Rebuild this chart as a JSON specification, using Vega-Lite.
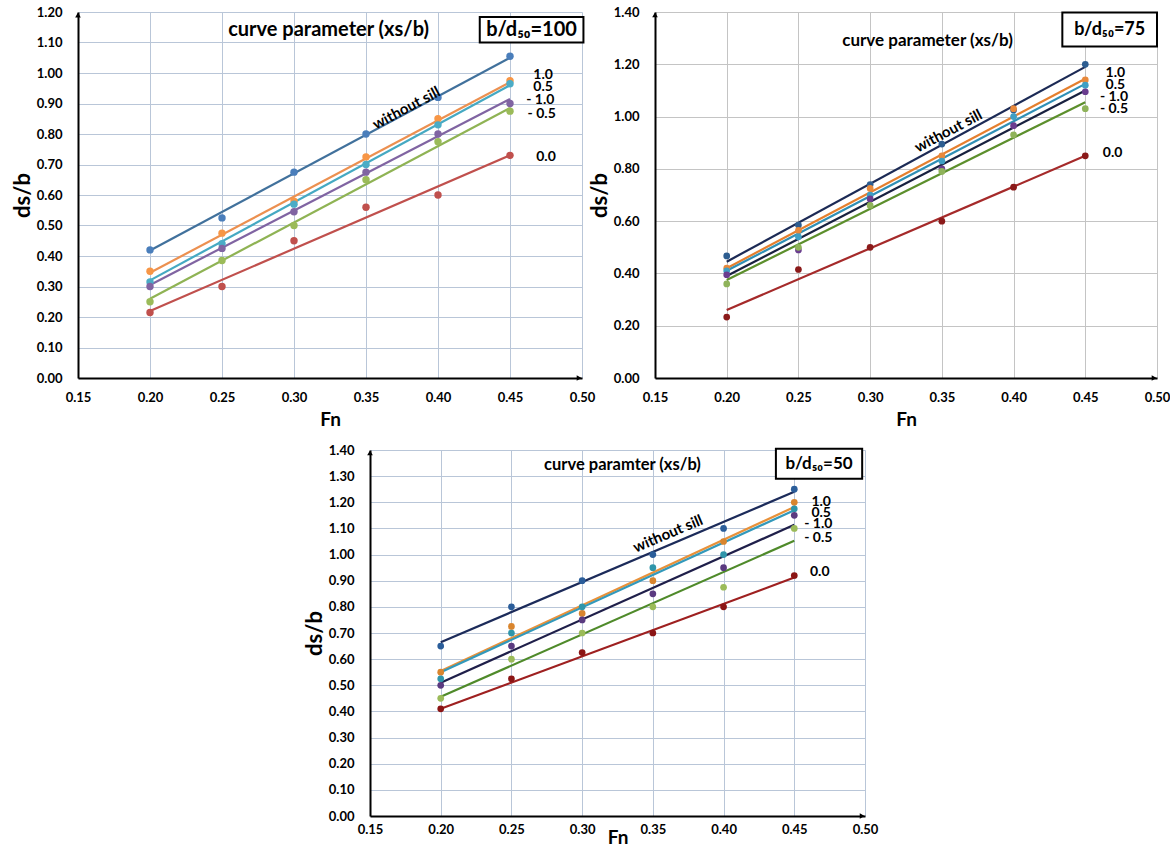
{
  "$schema": "https://vega.github.io/schema/vega-lite/v6.json",
  "background": "white",
  "padding": {"left": 11, "top": 6, "right": 0, "bottom": 0},
  "spacing": 15,
  "config": {
    "view": {"stroke": null},
    "font": "Lato",
    "axis": {
      "labelFont": "Lato", "labelFontWeight": "bold", "labelFontSize": 13, "labelColor": "#000",
      "titleFont": "Lato", "titleFontWeight": "bold", "titleColor": "#000",
      "domainColor": "#000", "domainWidth": 2, "ticks": false,
      "gridColor": "#b9c6d8", "gridWidth": 1, "gridOpacity": 1
    },
    "axisX": {"labelPadding": 13, "titleFontSize": 19, "titlePadding": 6, "labelFlush": false},
    "axisY": {"labelPadding": 16, "titleFontSize": 22, "titlePadding": 2, "labelFlush": false},
    "text": {"font": "Lato", "color": "#000"}
  },
  "datasets": {
    "pts100": [
      {"Fn": 0.20, "ds": 0.42, "s": "without sill"}, {"Fn": 0.20, "ds": 0.35, "s": "1.0"}, {"Fn": 0.20, "ds": 0.315, "s": "0.5"}, {"Fn": 0.20, "ds": 0.30, "s": "-1.0"}, {"Fn": 0.20, "ds": 0.25, "s": "-0.5"}, {"Fn": 0.20, "ds": 0.215, "s": "0.0"},
      {"Fn": 0.25, "ds": 0.525, "s": "without sill"}, {"Fn": 0.25, "ds": 0.475, "s": "1.0"}, {"Fn": 0.25, "ds": 0.44, "s": "0.5"}, {"Fn": 0.25, "ds": 0.425, "s": "-1.0"}, {"Fn": 0.25, "ds": 0.385, "s": "-0.5"}, {"Fn": 0.25, "ds": 0.30, "s": "0.0"},
      {"Fn": 0.30, "ds": 0.675, "s": "without sill"}, {"Fn": 0.30, "ds": 0.58, "s": "1.0"}, {"Fn": 0.30, "ds": 0.57, "s": "0.5"}, {"Fn": 0.30, "ds": 0.545, "s": "-1.0"}, {"Fn": 0.30, "ds": 0.50, "s": "-0.5"}, {"Fn": 0.30, "ds": 0.45, "s": "0.0"},
      {"Fn": 0.35, "ds": 0.80, "s": "without sill"}, {"Fn": 0.35, "ds": 0.725, "s": "1.0"}, {"Fn": 0.35, "ds": 0.70, "s": "0.5"}, {"Fn": 0.35, "ds": 0.675, "s": "-1.0"}, {"Fn": 0.35, "ds": 0.65, "s": "-0.5"}, {"Fn": 0.35, "ds": 0.56, "s": "0.0"},
      {"Fn": 0.40, "ds": 0.92, "s": "without sill"}, {"Fn": 0.40, "ds": 0.85, "s": "1.0"}, {"Fn": 0.40, "ds": 0.83, "s": "0.5"}, {"Fn": 0.40, "ds": 0.80, "s": "-1.0"}, {"Fn": 0.40, "ds": 0.775, "s": "-0.5"}, {"Fn": 0.40, "ds": 0.60, "s": "0.0"},
      {"Fn": 0.45, "ds": 1.055, "s": "without sill"}, {"Fn": 0.45, "ds": 0.975, "s": "1.0"}, {"Fn": 0.45, "ds": 0.965, "s": "0.5"}, {"Fn": 0.45, "ds": 0.90, "s": "-1.0"}, {"Fn": 0.45, "ds": 0.875, "s": "-0.5"}, {"Fn": 0.45, "ds": 0.73, "s": "0.0"}
    ],
    "lines100": [
      {"Fn": 0.20, "ds": 0.418, "s": "without sill"}, {"Fn": 0.45, "ds": 1.05, "s": "without sill"},
      {"Fn": 0.20, "ds": 0.345, "s": "1.0"}, {"Fn": 0.45, "ds": 0.97, "s": "1.0"},
      {"Fn": 0.20, "ds": 0.32, "s": "0.5"}, {"Fn": 0.45, "ds": 0.96, "s": "0.5"},
      {"Fn": 0.20, "ds": 0.305, "s": "-1.0"}, {"Fn": 0.45, "ds": 0.915, "s": "-1.0"},
      {"Fn": 0.20, "ds": 0.26, "s": "-0.5"}, {"Fn": 0.45, "ds": 0.885, "s": "-0.5"},
      {"Fn": 0.20, "ds": 0.22, "s": "0.0"}, {"Fn": 0.45, "ds": 0.73, "s": "0.0"}
    ],
    "labels100": [
      {"Fn": 0.473, "ds": 0.994, "t": "1.0"}, {"Fn": 0.473, "ds": 0.955, "t": "0.5"}, {"Fn": 0.471, "ds": 0.912, "t": "- 1.0"}, {"Fn": 0.472, "ds": 0.866, "t": "- 0.5"}, {"Fn": 0.475, "ds": 0.724, "t": "0.0"}
    ],
    "pts75": [
      {"Fn": 0.20, "ds": 0.467, "s": "without sill"}, {"Fn": 0.20, "ds": 0.42, "s": "1.0"}, {"Fn": 0.20, "ds": 0.41, "s": "0.5"}, {"Fn": 0.20, "ds": 0.395, "s": "-1.0"}, {"Fn": 0.20, "ds": 0.36, "s": "-0.5"}, {"Fn": 0.20, "ds": 0.233, "s": "0.0"},
      {"Fn": 0.25, "ds": 0.585, "s": "without sill"}, {"Fn": 0.25, "ds": 0.565, "s": "1.0"}, {"Fn": 0.25, "ds": 0.54, "s": "0.5"}, {"Fn": 0.25, "ds": 0.49, "s": "-1.0"}, {"Fn": 0.25, "ds": 0.50, "s": "-0.5"}, {"Fn": 0.25, "ds": 0.415, "s": "0.0"},
      {"Fn": 0.30, "ds": 0.74, "s": "without sill"}, {"Fn": 0.30, "ds": 0.725, "s": "1.0"}, {"Fn": 0.30, "ds": 0.70, "s": "0.5"}, {"Fn": 0.30, "ds": 0.685, "s": "-1.0"}, {"Fn": 0.30, "ds": 0.66, "s": "-0.5"}, {"Fn": 0.30, "ds": 0.50, "s": "0.0"},
      {"Fn": 0.35, "ds": 0.895, "s": "without sill"}, {"Fn": 0.35, "ds": 0.85, "s": "1.0"}, {"Fn": 0.35, "ds": 0.83, "s": "0.5"}, {"Fn": 0.35, "ds": 0.80, "s": "-1.0"}, {"Fn": 0.35, "ds": 0.79, "s": "-0.5"}, {"Fn": 0.35, "ds": 0.60, "s": "0.0"},
      {"Fn": 0.40, "ds": 1.025, "s": "without sill"}, {"Fn": 0.40, "ds": 1.03, "s": "1.0"}, {"Fn": 0.40, "ds": 1.00, "s": "0.5"}, {"Fn": 0.40, "ds": 0.965, "s": "-1.0"}, {"Fn": 0.40, "ds": 0.93, "s": "-0.5"}, {"Fn": 0.40, "ds": 0.73, "s": "0.0"},
      {"Fn": 0.45, "ds": 1.20, "s": "without sill"}, {"Fn": 0.45, "ds": 1.14, "s": "1.0"}, {"Fn": 0.45, "ds": 1.12, "s": "0.5"}, {"Fn": 0.45, "ds": 1.095, "s": "-1.0"}, {"Fn": 0.45, "ds": 1.03, "s": "-0.5"}, {"Fn": 0.45, "ds": 0.85, "s": "0.0"}
    ],
    "lines75": [
      {"Fn": 0.20, "ds": 0.445, "s": "without sill"}, {"Fn": 0.45, "ds": 1.19, "s": "without sill"},
      {"Fn": 0.20, "ds": 0.42, "s": "1.0"}, {"Fn": 0.45, "ds": 1.145, "s": "1.0"},
      {"Fn": 0.20, "ds": 0.41, "s": "0.5"}, {"Fn": 0.45, "ds": 1.125, "s": "0.5"},
      {"Fn": 0.20, "ds": 0.39, "s": "-1.0"}, {"Fn": 0.45, "ds": 1.10, "s": "-1.0"},
      {"Fn": 0.20, "ds": 0.375, "s": "-0.5"}, {"Fn": 0.45, "ds": 1.055, "s": "-0.5"},
      {"Fn": 0.20, "ds": 0.26, "s": "0.0"}, {"Fn": 0.45, "ds": 0.85, "s": "0.0"}
    ],
    "labels75": [
      {"Fn": 0.471, "ds": 1.167, "t": "1.0"}, {"Fn": 0.471, "ds": 1.12, "t": "0.5"}, {"Fn": 0.470, "ds": 1.076, "t": "- 1.0"}, {"Fn": 0.470, "ds": 1.03, "t": "- 0.5"}, {"Fn": 0.469, "ds": 0.859, "t": "0.0"}
    ],
    "pts50": [
      {"Fn": 0.20, "ds": 0.65, "s": "without sill"}, {"Fn": 0.20, "ds": 0.55, "s": "1.0"}, {"Fn": 0.20, "ds": 0.525, "s": "0.5"}, {"Fn": 0.20, "ds": 0.50, "s": "-1.0"}, {"Fn": 0.20, "ds": 0.45, "s": "-0.5"}, {"Fn": 0.20, "ds": 0.41, "s": "0.0"},
      {"Fn": 0.25, "ds": 0.80, "s": "without sill"}, {"Fn": 0.25, "ds": 0.725, "s": "1.0"}, {"Fn": 0.25, "ds": 0.70, "s": "0.5"}, {"Fn": 0.25, "ds": 0.65, "s": "-1.0"}, {"Fn": 0.25, "ds": 0.60, "s": "-0.5"}, {"Fn": 0.25, "ds": 0.525, "s": "0.0"},
      {"Fn": 0.30, "ds": 0.90, "s": "without sill"}, {"Fn": 0.30, "ds": 0.775, "s": "1.0"}, {"Fn": 0.30, "ds": 0.80, "s": "0.5"}, {"Fn": 0.30, "ds": 0.75, "s": "-1.0"}, {"Fn": 0.30, "ds": 0.70, "s": "-0.5"}, {"Fn": 0.30, "ds": 0.625, "s": "0.0"},
      {"Fn": 0.35, "ds": 1.00, "s": "without sill"}, {"Fn": 0.35, "ds": 0.90, "s": "1.0"}, {"Fn": 0.35, "ds": 0.95, "s": "0.5"}, {"Fn": 0.35, "ds": 0.85, "s": "-1.0"}, {"Fn": 0.35, "ds": 0.80, "s": "-0.5"}, {"Fn": 0.35, "ds": 0.70, "s": "0.0"},
      {"Fn": 0.40, "ds": 1.10, "s": "without sill"}, {"Fn": 0.40, "ds": 1.05, "s": "1.0"}, {"Fn": 0.40, "ds": 1.00, "s": "0.5"}, {"Fn": 0.40, "ds": 0.95, "s": "-1.0"}, {"Fn": 0.40, "ds": 0.875, "s": "-0.5"}, {"Fn": 0.40, "ds": 0.80, "s": "0.0"},
      {"Fn": 0.45, "ds": 1.25, "s": "without sill"}, {"Fn": 0.45, "ds": 1.20, "s": "1.0"}, {"Fn": 0.45, "ds": 1.175, "s": "0.5"}, {"Fn": 0.45, "ds": 1.15, "s": "-1.0"}, {"Fn": 0.45, "ds": 1.10, "s": "-0.5"}, {"Fn": 0.45, "ds": 0.92, "s": "0.0"}
    ],
    "lines50": [
      {"Fn": 0.20, "ds": 0.665, "s": "without sill"}, {"Fn": 0.45, "ds": 1.24, "s": "without sill"},
      {"Fn": 0.20, "ds": 0.555, "s": "1.0"}, {"Fn": 0.45, "ds": 1.182, "s": "1.0"},
      {"Fn": 0.20, "ds": 0.55, "s": "0.5"}, {"Fn": 0.45, "ds": 1.17, "s": "0.5"},
      {"Fn": 0.20, "ds": 0.51, "s": "-1.0"}, {"Fn": 0.45, "ds": 1.114, "s": "-1.0"},
      {"Fn": 0.20, "ds": 0.456, "s": "-0.5"}, {"Fn": 0.45, "ds": 1.053, "s": "-0.5"},
      {"Fn": 0.20, "ds": 0.41, "s": "0.0"}, {"Fn": 0.45, "ds": 0.912, "s": "0.0"}
    ],
    "labels50": [
      {"Fn": 0.469, "ds": 1.201, "t": "1.0"}, {"Fn": 0.469, "ds": 1.16, "t": "0.5"}, {"Fn": 0.467, "ds": 1.116, "t": "- 1.0"}, {"Fn": 0.467, "ds": 1.062, "t": "- 0.5"}, {"Fn": 0.468, "ds": 0.934, "t": "0.0"}
    ]
  },
  "vconcat": [
    {
      "hconcat": [
        {
          "width": 504, "height": 366,
          "encoding": {
            "x": {"field": "Fn", "type": "quantitative", "scale": {"domain": [0.15, 0.5], "nice": false, "zero": false},
                  "axis": {"title": "Fn", "values": [0.15, 0.2, 0.25, 0.3, 0.35, 0.4, 0.45, 0.5], "format": ".2f", "grid": true}},
            "y": {"field": "ds", "type": "quantitative", "scale": {"domain": [0, 1.2], "nice": false},
                  "axis": {"title": "ds/b", "values": [0, 0.1, 0.2, 0.3, 0.4, 0.5, 0.6, 0.7, 0.8, 0.9, 1.0, 1.1, 1.2], "format": ".2f", "grid": true}}
          },
          "layer": [
            {"data": {"name": "lines100"}, "mark": {"type": "line", "strokeWidth": 2.2},
             "encoding": {"stroke": {"field": "s", "type": "nominal", "legend": null,
               "scale": {"domain": ["without sill", "1.0", "0.5", "-1.0", "-0.5", "0.0"], "range": ["#41719c", "#ec9050", "#45a9c2", "#8064a2", "#8fb354", "#c0504d"]}}}},
            {"data": {"name": "pts100"}, "mark": {"type": "circle", "size": 55, "opacity": 1},
             "encoding": {"fill": {"field": "s", "type": "nominal", "legend": null,
               "scale": {"domain": ["without sill", "1.0", "0.5", "-1.0", "-0.5", "0.0"], "range": ["#4a7ebb", "#f79646", "#4bacc6", "#8064a2", "#9bbb59", "#c0504d"]}}}},
            {"data": {"values": [{"Fn": 0.15, "ds": 1.19}]}, "mark": {"type": "point", "shape": "triangle-up", "filled": true, "color": "#000", "size": 32, "opacity": 1}},
            {"data": {"values": [{"Fn": 0.498, "ds": 0}]}, "mark": {"type": "point", "shape": "triangle-right", "filled": true, "color": "#000", "size": 32, "opacity": 1}},
            {"data": {"name": "labels100"}, "mark": {"type": "text", "fontSize": 14, "fontWeight": "bold", "align": "center", "baseline": "middle"},
             "encoding": {"text": {"field": "t"}}},
            {"data": {"values": [{"Fn": 0.378, "ds": 0.885, "t": "without sill"}]}, "mark": {"type": "text", "fontSize": 15, "fontWeight": "bold", "angle": -28, "align": "center", "baseline": "middle"},
             "encoding": {"text": {"field": "t"}}},
            {"data": {"values": [{"Fn": 0.324, "ds": 1.142, "t": "curve parameter (xs/b)"}]}, "mark": {"type": "text", "fontSize": 20, "fontWeight": "bold", "align": "center", "baseline": "middle"},
             "encoding": {"text": {"field": "t"}}},
            {"data": {"values": [{"Fn": 0.429, "Fn2": 0.501, "ds": 1.10, "ds2": 1.184}]}, "mark": {"type": "rect", "fill": "white", "stroke": "#000", "strokeWidth": 2},
             "encoding": {"x2": {"field": "Fn2"}, "y2": {"field": "ds2"}}},
            {"data": {"values": [{"Fn": 0.465, "ds": 1.142, "t": "b/d₅₀=100"}]}, "mark": {"type": "text", "fontSize": 20, "fontWeight": "bold", "align": "center", "baseline": "middle"},
             "encoding": {"text": {"field": "t"}}}
          ]
        },
        {
          "width": 502, "height": 366,
          "encoding": {
            "x": {"field": "Fn", "type": "quantitative", "scale": {"domain": [0.15, 0.5], "nice": false, "zero": false},
                  "axis": {"title": "Fn", "values": [0.15, 0.2, 0.25, 0.3, 0.35, 0.4, 0.45, 0.5], "format": ".2f", "grid": true, "gridColor": "#c4c4c4"}},
            "y": {"field": "ds", "type": "quantitative", "scale": {"domain": [0, 1.4], "nice": false},
                  "axis": {"title": "ds/b", "values": [0, 0.2, 0.4, 0.6, 0.8, 1.0, 1.2, 1.4], "format": ".2f", "grid": true, "gridColor": "#c4c4c4"}}
          },
          "layer": [
            {"data": {"name": "lines75"}, "mark": {"type": "line", "strokeWidth": 2.2},
             "encoding": {"stroke": {"field": "s", "type": "nominal", "legend": null,
               "scale": {"domain": ["without sill", "1.0", "0.5", "-1.0", "-0.5", "0.0"], "range": ["#1c2a55", "#e57f2e", "#2f8fb5", "#18213f", "#5c8f2c", "#a52a2a"]}}}},
            {"data": {"name": "pts75"}, "mark": {"type": "circle", "size": 45, "opacity": 1},
             "encoding": {"fill": {"field": "s", "type": "nominal", "legend": null,
               "scale": {"domain": ["without sill", "1.0", "0.5", "-1.0", "-0.5", "0.0"], "range": ["#2d5d90", "#e8893c", "#3f9fc4", "#6a3d8f", "#8fb35a", "#8b1a1a"]}}}},
            {"data": {"values": [{"Fn": 0.15, "ds": 1.389}]}, "mark": {"type": "point", "shape": "triangle-up", "filled": true, "color": "#000", "size": 32, "opacity": 1}},
            {"data": {"values": [{"Fn": 0.498, "ds": 0}]}, "mark": {"type": "point", "shape": "triangle-right", "filled": true, "color": "#000", "size": 32, "opacity": 1}},
            {"data": {"name": "labels75"}, "mark": {"type": "text", "fontSize": 14, "fontWeight": "bold", "align": "center", "baseline": "middle"},
             "encoding": {"text": {"field": "t"}}},
            {"data": {"values": [{"Fn": 0.3545, "ds": 0.945, "t": "without sill"}]}, "mark": {"type": "text", "fontSize": 15, "fontWeight": "bold", "angle": -28, "align": "center", "baseline": "middle"},
             "encoding": {"text": {"field": "t"}}},
            {"data": {"values": [{"Fn": 0.34, "ds": 1.29, "t": "curve parameter (xs/b)"}]}, "mark": {"type": "text", "fontSize": 17, "fontWeight": "bold", "align": "center", "baseline": "middle"},
             "encoding": {"text": {"field": "t"}}},
            {"data": {"values": [{"Fn": 0.434, "Fn2": 0.50, "ds": 1.268, "ds2": 1.398}]}, "mark": {"type": "rect", "fill": "white", "stroke": "#000", "strokeWidth": 2},
             "encoding": {"x2": {"field": "Fn2"}, "y2": {"field": "ds2"}}},
            {"data": {"values": [{"Fn": 0.467, "ds": 1.333, "t": "b/d₅₀=75"}]}, "mark": {"type": "text", "fontSize": 18, "fontWeight": "bold", "align": "center", "baseline": "middle"},
             "encoding": {"text": {"field": "t"}}}
          ]
        }
      ],
      "spacing": 73,
      "bounds": "flush",
      "resolve": {"scale": {"x": "independent", "y": "independent", "stroke": "independent", "fill": "independent"}}
    },
    {
      "hconcat": [
        {"width": 272, "height": 10, "data": {"values": [{"a": 1}]}, "mark": {"type": "point", "opacity": 0}, "encoding": {}},
        {
          "width": 495, "height": 366,
          "encoding": {
            "x": {"field": "Fn", "type": "quantitative", "scale": {"domain": [0.15, 0.5], "nice": false, "zero": false},
                  "axis": {"title": "Fn", "values": [0.15, 0.2, 0.25, 0.3, 0.35, 0.4, 0.45, 0.5], "format": ".2f", "grid": true, "labelPadding": 7, "titlePadding": -8}},
            "y": {"field": "ds", "type": "quantitative", "scale": {"domain": [0, 1.4], "nice": false},
                  "axis": {"title": "ds/b", "values": [0, 0.1, 0.2, 0.3, 0.4, 0.5, 0.6, 0.7, 0.8, 0.9, 1.0, 1.1, 1.2, 1.3, 1.4], "format": ".2f", "grid": true}}
          },
          "layer": [
            {"data": {"name": "lines50"}, "mark": {"type": "line", "strokeWidth": 2.2},
             "encoding": {"stroke": {"field": "s", "type": "nominal", "legend": null,
               "scale": {"domain": ["without sill", "1.0", "0.5", "-1.0", "-0.5", "0.0"], "range": ["#1c2b5a", "#e8913a", "#3399bb", "#1f1f4a", "#4f8a2a", "#9e2020"]}}}},
            {"data": {"name": "pts50"}, "mark": {"type": "circle", "size": 45, "opacity": 1},
             "encoding": {"fill": {"field": "s", "type": "nominal", "legend": null,
               "scale": {"domain": ["without sill", "1.0", "0.5", "-1.0", "-0.5", "0.0"], "range": ["#2a5d9a", "#d9852e", "#2f95aa", "#5a3a80", "#9bbb59", "#8b1515"]}}}},
            {"data": {"values": [{"Fn": 0.15, "ds": 1.389}]}, "mark": {"type": "point", "shape": "triangle-up", "filled": true, "color": "#000", "size": 32, "opacity": 1}},
            {"data": {"values": [{"Fn": 0.498, "ds": 0}]}, "mark": {"type": "point", "shape": "triangle-right", "filled": true, "color": "#000", "size": 32, "opacity": 1}},
            {"data": {"name": "labels50"}, "mark": {"type": "text", "fontSize": 14, "fontWeight": "bold", "align": "center", "baseline": "middle"},
             "encoding": {"text": {"field": "t"}}},
            {"data": {"values": [{"Fn": 0.3607, "ds": 1.08, "t": "without sill"}]}, "mark": {"type": "text", "fontSize": 15, "fontWeight": "bold", "angle": -23, "align": "center", "baseline": "middle"},
             "encoding": {"text": {"field": "t"}}},
            {"data": {"values": [{"Fn": 0.3285, "ds": 1.342, "t": "curve paramter (xs/b)"}]}, "mark": {"type": "text", "fontSize": 16.5, "fontWeight": "bold", "align": "center", "baseline": "middle"},
             "encoding": {"text": {"field": "t"}}},
            {"data": {"values": [{"Fn": 0.437, "Fn2": 0.498, "ds": 1.29, "ds2": 1.405}]}, "mark": {"type": "rect", "fill": "white", "stroke": "#000", "strokeWidth": 2},
             "encoding": {"x2": {"field": "Fn2"}, "y2": {"field": "ds2"}}},
            {"data": {"values": [{"Fn": 0.4675, "ds": 1.347, "t": "b/d₅₀=50"}]}, "mark": {"type": "text", "fontSize": 17, "fontWeight": "bold", "align": "center", "baseline": "middle"},
             "encoding": {"text": {"field": "t"}}}
          ]
        }
      ],
      "spacing": 20,
      "bounds": "flush",
      "resolve": {"scale": {"x": "independent", "y": "independent", "stroke": "independent", "fill": "independent"}}
    }
  ]
}
